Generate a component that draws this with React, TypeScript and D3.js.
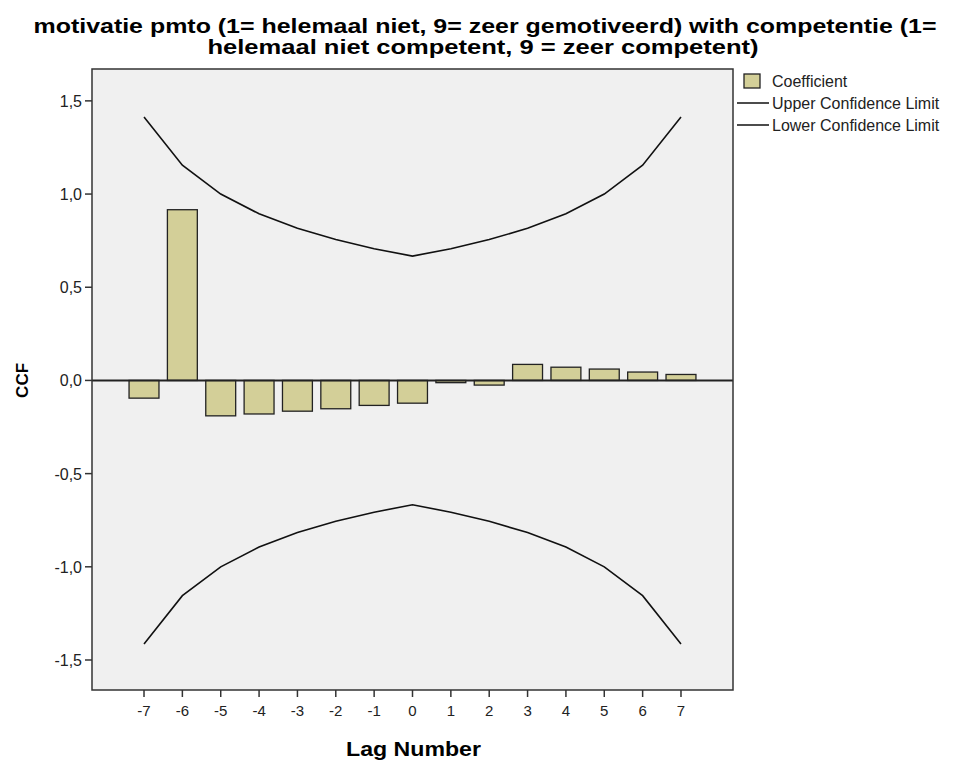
import React from "react";
import * as d3 from "d3";

// Lags and cross-correlation coefficients
const lags = [-7, -6, -5, -4, -3, -2, -1, 0, 1, 2, 3, 4, 5, 6, 7];
const coefficients = [
  -0.095, 0.916, -0.19, -0.18, -0.165, -0.152, -0.134, -0.122, -0.012, -0.025,
  0.086, 0.071, 0.061, 0.045, 0.032,
];
const upperLimit = [
  1.414, 1.155, 1.0, 0.894, 0.816, 0.756, 0.707, 0.667, 0.707, 0.756, 0.816,
  0.894, 1.0, 1.155, 1.414,
];
const lowerLimit = [
  -1.414, -1.155, -1.0, -0.894, -0.816, -0.756, -0.707, -0.667, -0.707,
  -0.756, -0.816, -0.894, -1.0, -1.155, -1.414,
];
const yTicks = [-1.5, -1.0, -0.5, 0.0, 0.5, 1.0, 1.5];
const titleLines = [
  "motivatie pmto (1= helemaal niet, 9= zeer gemotiveerd) with competentie (1=",
  "helemaal niet competent, 9 = zeer competent)",
];
const legendItems = ["Coefficient", "Upper Confidence Limit", "Lower Confidence Limit"];

const W = 955;
const H = 764;
const plot = { left: 92, right: 733, top: 69, bottom: 690 };
const font = "'Liberation Sans', Arial, sans-serif";
const barFill = "#d3cf98";

export default function App() {
  const x = d3.scaleLinear().domain([-8.356, 8.356]).range([plot.left, plot.right]);
  const y = d3.scaleLinear().domain([-1.661, 1.671]).range([plot.bottom, plot.top]);
  const step = x(1) - x(0);
  const barW = step * 0.78;

  const line = d3
    .line<number>()
    .x((_, i) => x(lags[i]))
    .y((d) => y(d));

  const fmt = (v: number) => v.toFixed(1).replace(".", ",");

  return (
    <svg
      width={W}
      height={H}
      style={{ position: "absolute", left: 0, top: 0, background: "#fff" }}
      fontFamily={font}
    >
      {/* title */}
      <text
        x={485}
        y={33}
        textAnchor="middle"
        fontWeight="bold"
        fontSize={20}
        textLength={903}
        lengthAdjust="spacingAndGlyphs"
        fill="#000"
      >
        {titleLines[0]}
      </text>
      <text
        x={483}
        y={54}
        textAnchor="middle"
        fontWeight="bold"
        fontSize={20}
        textLength={551}
        lengthAdjust="spacingAndGlyphs"
        fill="#000"
      >
        {titleLines[1]}
      </text>

      {/* plot background */}
      <rect
        x={plot.left}
        y={plot.top}
        width={plot.right - plot.left}
        height={plot.bottom - plot.top}
        fill="#f0f0f0"
      />

      {/* bars */}
      {coefficients.map((v, i) => (
        <rect
          key={i}
          x={x(lags[i]) - barW / 2}
          y={Math.min(y(v), y(0))}
          width={barW}
          height={Math.abs(y(v) - y(0))}
          fill={barFill}
          stroke="#222"
          strokeWidth={1.3}
        />
      ))}

      {/* confidence limits */}
      <path d={line(upperLimit) || ""} fill="none" stroke="#111" strokeWidth={1.6} />
      <path d={line(lowerLimit) || ""} fill="none" stroke="#111" strokeWidth={1.6} />

      {/* zero reference line */}
      <line x1={plot.left} x2={plot.right} y1={y(0)} y2={y(0)} stroke="#222" strokeWidth={2} />

      {/* frame */}
      <rect
        x={plot.left}
        y={plot.top}
        width={plot.right - plot.left}
        height={plot.bottom - plot.top}
        fill="none"
        stroke="#333"
        strokeWidth={1.5}
      />

      {/* y axis ticks */}
      {yTicks.map((t) => (
        <g key={t}>
          <line x1={plot.left - 7} x2={plot.left} y1={y(t)} y2={y(t)} stroke="#333" strokeWidth={1.5} />
          <text x={plot.left - 10} y={y(t) + 6} textAnchor="end" fontSize={16} fill="#222">
            {fmt(t)}
          </text>
        </g>
      ))}

      {/* x axis ticks */}
      {lags.map((l) => (
        <g key={l}>
          <line x1={x(l)} x2={x(l)} y1={plot.bottom} y2={plot.bottom + 7} stroke="#333" strokeWidth={1.5} />
          <text x={x(l)} y={plot.bottom + 26} textAnchor="middle" fontSize={15} fill="#222">
            {l}
          </text>
        </g>
      ))}

      {/* axis titles */}
      <text
        x={413.5}
        y={756}
        textAnchor="middle"
        fontWeight="bold"
        fontSize={20}
        textLength={135}
        lengthAdjust="spacingAndGlyphs"
        fill="#000"
      >
        Lag Number
      </text>
      <text
        transform={`translate(28, ${y(0)}) rotate(-90)`}
        textAnchor="middle"
        fontWeight="bold"
        fontSize={17}
        fill="#000"
      >
        CCF
      </text>

      {/* legend */}
      <rect x={744} y={74} width={16} height={14} fill={barFill} stroke="#222" strokeWidth={1.3} />
      <text x={772} y={87} fontSize={16} fill="#222">
        {legendItems[0]}
      </text>
      <line x1={737} x2={769} y1={103} y2={103} stroke="#111" strokeWidth={1.5} />
      <text x={772} y={109} fontSize={16} fill="#222">
        {legendItems[1]}
      </text>
      <line x1={737} x2={769} y1={125} y2={125} stroke="#111" strokeWidth={1.5} />
      <text x={772} y={131} fontSize={16} fill="#222">
        {legendItems[2]}
      </text>
    </svg>
  );
}
